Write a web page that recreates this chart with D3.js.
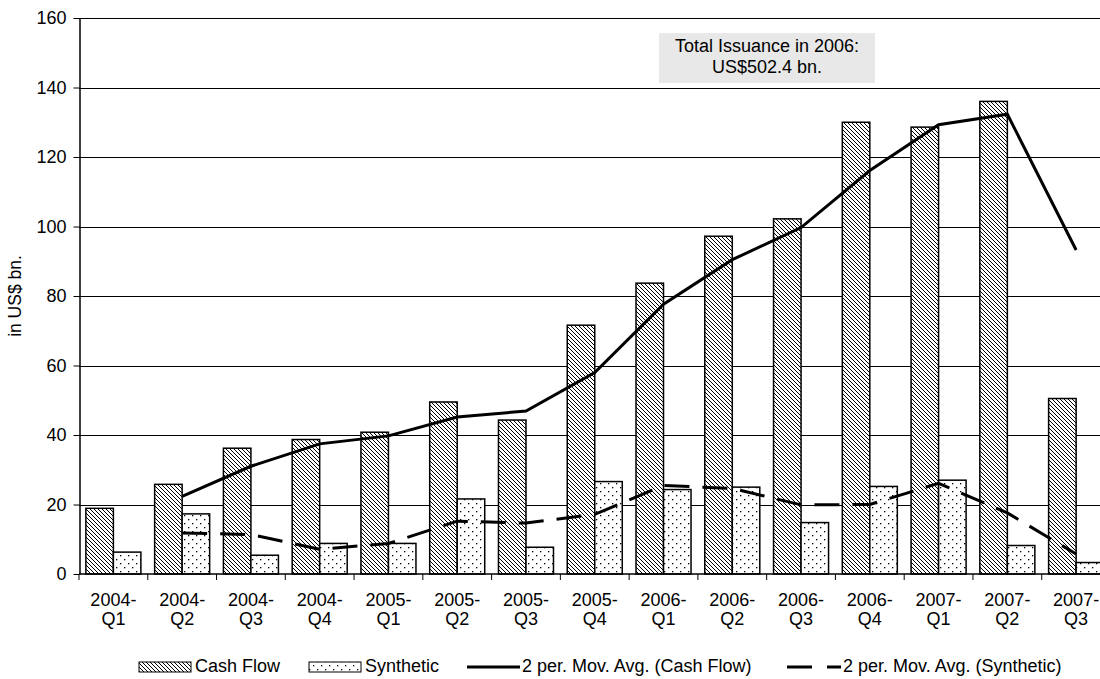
<!DOCTYPE html>
<html>
<head>
<meta charset="utf-8">
<script src="https://cdn.jsdelivr.net/npm/d3@7"></script>
<style>
    body { margin: 0; background: #fff; }
    svg { font-family: "Liberation Sans", Arial, sans-serif; }
    .axis text { font-size: 18px; fill: #000; font-family: "Liberation Sans", Arial, sans-serif; }
    .axis path, .axis line { stroke: #000; }
</style>
</head>
<body>
<svg id="chart"></svg>
<script>
// Data
const quarters = ['2004-Q1', '2004-Q2', '2004-Q3', '2004-Q4', '2005-Q1', '2005-Q2', '2005-Q3', '2005-Q4',
    '2006-Q1', '2006-Q2', '2006-Q3', '2006-Q4', '2007-Q1', '2007-Q2', '2007-Q3'];
const cashFlow = [18.9, 25.8, 36.2, 38.7, 40.8, 49.5, 44.3, 71.6, 83.7, 97.2, 102.2, 130.0, 128.6, 136.0, 50.5];
const synthetic = [6.3, 17.3, 5.4, 8.8, 8.8, 21.6, 7.7, 26.6, 24.3, 25.0, 14.8, 25.2, 27.0, 8.2, 3.3];
// 2 period moving averages, starting at 2004-Q2
const maCashFlow = [null, 22.35, 31.0, 37.45, 39.75, 45.15, 46.9, 57.95, 77.65, 90.45, 99.7, 116.1, 129.3, 132.3, 93.25];
const maSynthetic = [null, 11.8, 11.35, 7.1, 8.8, 15.2, 14.65, 17.15, 25.45, 24.65, 19.9, 20.0, 26.1, 17.6, 5.75];
const yTicks = [0, 20, 40, 60, 80, 100, 120, 140, 160];
const legendLabels = ['Cash Flow', 'Synthetic', '2 per. Mov. Avg. (Cash Flow)', '2 per. Mov. Avg. (Synthetic)'];
const noteLines = ['Total Issuance in 2006:', 'US$502.4 bn.'];

const W = 1100, H = 679;
const margin = {top: 18, right: -10.5, bottom: 105, left: 79};
const width = W - margin.left - margin.right;
const height = H - margin.top - margin.bottom;

const svg = d3.select('#chart').attr('width', W).attr('height', H);

// patterns for the bars
const defs = svg.append('defs');
const hatch = defs.append('pattern')
    .attr('id', 'hatch')
    .attr('patternUnits', 'userSpaceOnUse')
    .attr('width', 4).attr('height', 4);
hatch.append('rect').attr('width', 4).attr('height', 4).attr('fill', '#fff');
hatch.append('path')
    .attr('d', 'M-1,-1 L5,5 M-1,3 L1,5 M3,-1 L5,1')
    .attr('stroke', '#000').attr('stroke-width', 1);

const dots = defs.append('pattern')
    .attr('id', 'dots')
    .attr('patternUnits', 'userSpaceOnUse')
    .attr('width', 8).attr('height', 8);
dots.append('rect').attr('width', 8).attr('height', 8).attr('fill', '#fff');
dots.append('rect').attr('x', 1).attr('y', 1).attr('width', 1.3).attr('height', 1.3).attr('fill', '#000');
dots.append('rect').attr('x', 5).attr('y', 5).attr('width', 1.3).attr('height', 1.3).attr('fill', '#000');

const chart = svg.append('g')
    .attr('transform', `translate(${margin.left},${margin.top})`);

const xScale = d3.scaleBand().domain(quarters).range([0, width]).padding(0);
const yScale = d3.scaleLinear().domain([0, 160]).range([height, 0]);
const bw = xScale.bandwidth();

// gridlines
chart.append('g')
    .selectAll('line')
    .data(yTicks.filter(d => d > 0))
    .join('line')
    .attr('x1', 0).attr('x2', width)
    .attr('y1', d => Math.round(yScale(d)) + 0.5)
    .attr('y2', d => Math.round(yScale(d)) + 0.5)
    .attr('stroke', '#000')
    .attr('stroke-width', 1);

// note box
const note = chart.append('g').attr('transform', 'translate(580,15)');
note.append('rect')
    .attr('width', 216).attr('height', 50)
    .attr('fill', '#e8e8e8');
note.selectAll('text')
    .data(noteLines)
    .join('text')
    .attr('x', 108)
    .attr('y', (d, i) => 19 + i * 21)
    .attr('text-anchor', 'middle')
    .style('font-size', '18px')
    .text(d => d);

// bars
chart.append('g')
    .selectAll('rect')
    .data(quarters)
    .join('rect')
    .attr('x', d => xScale(d) + bw * 0.1)
    .attr('y', (d, i) => yScale(cashFlow[i]))
    .attr('width', bw * 0.4)
    .attr('height', (d, i) => height - yScale(cashFlow[i]))
    .attr('fill', 'url(#hatch)')
    .attr('stroke', '#000')
    .attr('stroke-width', 1.5);

chart.append('g')
    .selectAll('rect')
    .data(quarters)
    .join('rect')
    .attr('x', d => xScale(d) + bw * 0.5)
    .attr('y', (d, i) => yScale(synthetic[i]))
    .attr('width', bw * 0.4)
    .attr('height', (d, i) => height - yScale(synthetic[i]))
    .attr('fill', 'url(#dots)')
    .attr('stroke', '#000')
    .attr('stroke-width', 1.5);

// moving average lines
const line = d3.line()
    .defined(d => d[1] != null)
    .x(d => xScale(d[0]) + bw / 2)
    .y(d => yScale(d[1]));

chart.append('path')
    .datum(quarters.map((q, i) => [q, maCashFlow[i]]))
    .attr('d', line)
    .attr('fill', 'none')
    .attr('stroke', '#000')
    .attr('stroke-width', 3);

chart.append('path')
    .datum(quarters.map((q, i) => [q, maSynthetic[i]]))
    .attr('d', line)
    .attr('fill', 'none')
    .attr('stroke', '#000')
    .attr('stroke-width', 3)
    .attr('stroke-dasharray', '25,13');

// axes
const yAxis = d3.axisLeft(yScale).tickValues(yTicks).tickSize(6).tickPadding(7).tickSizeOuter(0);
chart.append('g')
    .attr('class', 'axis y-axis')
    .attr('transform', 'translate(0.5,0)')
    .call(yAxis)
    .call(g => g.select('.domain').attr('stroke-width', 1.5))
    .call(g => g.selectAll('.tick text').style('font-size', '18px'));

const xAxisG = chart.append('g')
    .attr('class', 'axis x-axis')
    .attr('transform', `translate(0,${height})`);
xAxisG.append('line')
    .attr('x1', 0).attr('x2', width)
    .attr('stroke', '#000').attr('stroke-width', 1.5);
xAxisG.selectAll('.tick-line')
    .data(quarters)
    .join('line')
    .attr('class', 'tick-line')
    .attr('x1', d => xScale(d)).attr('x2', d => xScale(d))
    .attr('y1', 0).attr('y2', 6)
    .attr('stroke', '#000');
const xLabels = xAxisG.selectAll('.xlabel')
    .data(quarters)
    .join('text')
    .attr('class', 'xlabel')
    .attr('text-anchor', 'middle')
    .attr('transform', d => `translate(${xScale(d) + bw / 2},0)`);
xLabels.append('tspan').attr('x', 0).attr('y', 32).text(d => d.split('-')[0] + '-');
xLabels.append('tspan').attr('x', 0).attr('y', 51).text(d => d.split('-')[1]);

// Y-Axis Label
svg.append('text')
    .attr('transform', 'rotate(-90)')
    .attr('x', -296)
    .attr('y', 21)
    .style('text-anchor', 'middle')
    .style('font-size', '17.5px')
    .text('in US$ bn.');

// legend
const swatchX = [139, 309, 467, 787];
const textX = [195, 365, 522, 843];
const legend = svg.append('g').attr('transform', 'translate(0,672)');
legend.append('rect').attr('x', swatchX[0]).attr('y', -10).attr('width', 52).attr('height', 10)
    .attr('fill', 'url(#hatch)').attr('stroke', '#000');
legend.append('rect').attr('x', swatchX[1]).attr('y', -10).attr('width', 52).attr('height', 10)
    .attr('fill', 'url(#dots)').attr('stroke', '#000');
legend.append('line').attr('x1', swatchX[2]).attr('x2', swatchX[2] + 53).attr('y1', -5).attr('y2', -5)
    .attr('stroke', '#000').attr('stroke-width', 3);
legend.append('line').attr('x1', swatchX[3]).attr('x2', swatchX[3] + 54).attr('y1', -5).attr('y2', -5)
    .attr('stroke', '#000').attr('stroke-width', 3).attr('stroke-dasharray', '25,15');
legend.selectAll('.ltext')
    .data(legendLabels)
    .join('text')
    .attr('class', 'ltext')
    .attr('x', (d, i) => textX[i])
    .attr('y', 0)
    .style('font-size', '18px')
    .text(d => d);
</script>
</body>
</html>
